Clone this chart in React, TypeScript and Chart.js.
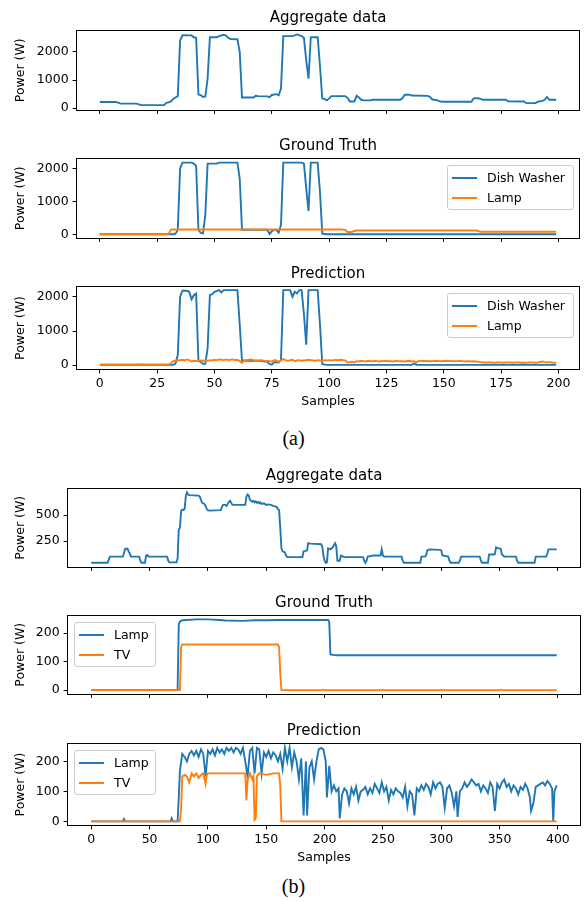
import React, { useEffect, useRef } from "react";
import { Chart, registerables } from "chart.js";
Chart.register(...registerables);

const BLUE = "#1f77b4";
const ORANGE = "#ff7f0e";
const FONT = "'DejaVu Sans', sans-serif";

type Pt = [number, number];

// ---------------- (a) data : [sample, watts] ----------------
const aAggregate: Pt[] = [[0,220],[7,220],[8,200],[9,165],[16,165],[17,140],[18,112],[28,112],[29,190],[30,205],[31,240],[32,330],[33,380],[34,430],[35,2400],[36,2590],[40,2585],[41,2520],[42,2500],[43,490],[44,470],[45,400],[46,420],[47,1050],[48,2520],[51,2520],[52,2560],[54,2610],[55,2580],[56,2500],[57,2460],[60,2450],[61,2000],[62,380],[67,380],[68,440],[69,430],[73,420],[74,390],[75,470],[77,500],[78,460],[79,700],[80,2560],[84,2560],[86,2620],[88,2560],[89,2500],[90,1700],[91,1050],[92,2520],[95,2520],[96,1500],[97,350],[98,330],[99,280],[100,350],[101,430],[107,430],[108,370],[109,240],[111,240],[112,440],[113,380],[114,300],[115,280],[118,280],[119,300],[131,300],[132,360],[133,480],[135,480],[136,450],[143,440],[144,400],[145,310],[147,290],[148,250],[149,230],[162,230],[163,350],[165,360],[166,330],[167,300],[177,300],[178,250],[185,240],[186,180],[190,180],[191,230],[193,260],[194,300],[195,400],[196,300],[199,300]];

const aTruthDish: Pt[] = [[0,10],[32,10],[33,30],[34,150],[35,2000],[36,2180],[40,2180],[41,2150],[42,2080],[43,150],[44,50],[45,40],[46,600],[47,2150],[51,2150],[52,2180],[60,2180],[61,1700],[62,150],[73,150],[74,20],[75,100],[76,150],[77,140],[78,60],[79,300],[80,2180],[88,2180],[89,2150],[90,1400],[91,720],[92,2180],[95,2180],[96,1300],[97,30],[99,10],[199,10]];

const aTruthLamp: Pt[] = [[0,10],[29,10],[30,20],[31,150],[32,155],[105,155],[106,150],[107,140],[108,80],[110,80],[111,110],[112,125],[164,125],[165,110],[166,85],[199,85]];

const aPredDish: Pt[] = [[0,10],[32,10],[33,50],[34,300],[35,2000],[36,2180],[38,2180],[39,2150],[40,1930],[41,2050],[42,2100],[43,120],[44,100],[45,40],[46,40],[47,500],[48,2050],[49,2080],[50,2150],[52,2200],[53,2130],[54,2200],[60,2200],[61,1200],[62,130],[70,130],[72,110],[73,100],[74,40],[75,20],[76,90],[78,80],[79,150],[80,2200],[83,2200],[84,2000],[85,2150],[86,2100],[87,2200],[88,2200],[89,1500],[90,600],[91,2200],[95,2200],[96,1200],[97,30],[99,10],[136,10],[137,50],[138,10],[199,10]];

const aPredLamp: Pt[] = [[0,20],[16,20],[17,30],[18,20],[30,20],[31,60],[32,120],[33,130],[34,140],[35,150],[36,160],[37,140],[38,170],[39,150],[40,110],[41,130],[42,120],[43,130],[44,140],[45,130],[46,140],[47,130],[48,150],[49,140],[50,160],[51,150],[52,170],[53,160],[54,150],[55,170],[56,150],[57,160],[58,170],[59,150],[60,160],[61,120],[62,70],[63,150],[64,140],[65,160],[66,170],[67,150],[68,140],[69,130],[70,150],[71,140],[72,120],[73,130],[74,120],[75,110],[76,150],[77,140],[78,100],[79,140],[80,180],[81,150],[82,130],[83,150],[84,160],[85,120],[86,140],[87,150],[88,130],[89,140],[90,150],[91,160],[92,150],[93,140],[94,130],[95,150],[96,140],[97,130],[98,150],[99,140],[100,150],[101,140],[102,150],[103,155],[104,150],[105,160],[106,150],[107,140],[108,80],[109,90],[110,100],[111,80],[112,120],[113,110],[114,130],[115,120],[116,110],[117,130],[118,120],[119,115],[120,125],[121,120],[122,110],[123,125],[124,120],[125,130],[126,115],[127,120],[128,110],[129,125],[130,120],[131,115],[132,120],[133,110],[134,125],[135,130],[136,110],[137,120],[138,80],[139,125],[140,120],[141,130],[142,120],[143,125],[144,115],[145,120],[146,130],[147,125],[148,120],[149,115],[150,125],[151,130],[152,120],[153,125],[154,120],[155,115],[156,120],[157,125],[158,120],[159,110],[160,115],[161,120],[162,110],[163,115],[164,110],[165,100],[166,90],[167,80],[168,85],[169,80],[170,85],[171,80],[172,75],[173,80],[174,85],[175,80],[176,75],[177,80],[178,85],[179,80],[180,75],[181,80],[182,85],[183,80],[184,75],[185,80],[186,70],[187,80],[188,85],[189,80],[190,75],[191,80],[192,100],[193,110],[194,90],[195,80],[196,90],[197,80],[198,70],[199,80]];

// ---------------- (b) data ----------------
const bAggregate: Pt[] = [[0,40],[14,40],[15,70],[16,100],[27,100],[28,130],[29,175],[31,178],[32,150],[33,130],[34,100],[41,100],[42,60],[43,40],[46,40],[47,110],[48,115],[49,100],[65,100],[66,60],[67,44],[73,44],[74,80],[75,360],[76,380],[77,540],[78,555],[79,550],[80,560],[81,680],[82,720],[83,700],[84,695],[92,690],[93,680],[95,620],[97,610],[98,590],[99,560],[100,550],[101,545],[111,550],[112,580],[113,600],[115,600],[116,590],[117,610],[118,630],[119,640],[120,620],[121,600],[132,600],[133,680],[134,700],[135,690],[136,650],[137,640],[138,630],[139,640],[140,625],[141,635],[142,620],[143,630],[144,615],[145,625],[146,610],[148,615],[150,600],[152,605],[154,600],[156,590],[158,585],[159,580],[160,560],[161,550],[162,380],[163,180],[164,150],[165,145],[166,140],[167,110],[168,95],[181,95],[182,150],[184,155],[185,160],[186,230],[188,225],[197,220],[198,200],[199,110],[200,60],[201,40],[202,45],[203,180],[205,170],[207,190],[209,230],[210,200],[211,60],[213,60],[214,110],[216,100],[217,95],[233,95],[234,60],[235,40],[236,60],[237,100],[242,110],[248,110],[249,170],[250,110],[251,100],[266,100],[267,60],[268,40],[282,40],[283,100],[286,100],[287,110],[288,160],[290,170],[299,165],[300,160],[301,110],[306,100],[307,60],[308,40],[315,40],[316,60],[317,100],[333,100],[334,60],[335,40],[340,40],[341,120],[345,120],[346,125],[347,190],[349,180],[351,175],[352,120],[354,100],[364,100],[365,60],[366,40],[380,40],[381,100],[390,100],[391,130],[392,170],[399,170]];

const bTruthLamp: Pt[] = [[0,0],[74,0],[75,230],[76,240],[78,245],[90,248],[100,248],[110,246],[115,244],[130,243],[140,245],[150,245],[160,246],[203,246],[204,240],[205,125],[210,122],[399,122]];

const bTruthTV: Pt[] = [[0,0],[76,0],[77,150],[78,160],[160,160],[161,150],[162,60],[163,0],[399,0]];

const bPredLamp: Pt[] = [[0,0],[27,0],[28,8],[29,0],[68,0],[69,10],[70,0],[74,0],[75,80],[76,170],[78,225],[80,215],[82,200],[84,225],[86,235],[88,220],[90,235],[92,215],[94,240],[96,225],[98,150],[100,235],[102,225],[104,240],[106,220],[108,245],[110,230],[112,240],[114,225],[116,245],[118,235],[120,245],[122,230],[124,245],[126,240],[128,225],[130,245],[132,200],[134,150],[136,235],[138,245],[140,160],[142,245],[144,240],[146,160],[148,230],[150,215],[152,235],[154,210],[156,230],[158,220],[160,200],[162,225],[164,175],[166,245],[168,200],[170,245],[172,180],[174,230],[176,200],[178,140],[180,210],[182,20],[184,200],[185,20],[187,180],[189,200],[191,140],[193,200],[195,240],[197,245],[199,240],[201,200],[202,80],[204,185],[206,100],[208,120],[210,100],[212,110],[213,10],[215,90],[217,110],[219,100],[221,60],[223,110],[225,90],[227,115],[229,70],[231,100],[233,105],[235,115],[237,90],[239,110],[241,95],[243,125],[245,110],[247,95],[249,130],[251,100],[253,115],[255,70],[257,105],[259,90],[261,110],[263,100],[265,95],[267,80],[269,115],[271,50],[273,100],[275,90],[277,20],[279,110],[281,100],[283,120],[285,105],[287,125],[289,115],[291,90],[293,130],[295,110],[297,125],[299,130],[301,115],[303,45],[305,110],[307,120],[309,95],[311,50],[313,100],[314,15],[316,100],[318,110],[320,130],[322,115],[324,125],[326,140],[328,130],[330,120],[332,125],[334,100],[336,120],[338,110],[340,95],[342,130],[344,115],[346,35],[348,125],[350,110],[352,130],[354,140],[356,115],[358,125],[360,100],[362,120],[364,110],[366,90],[368,115],[370,105],[372,125],[374,110],[376,80],[377,35],[379,60],[381,115],[383,120],[385,125],[387,130],[389,120],[391,135],[393,125],[395,110],[396,0],[397,100],[399,120]];

const bPredTV: Pt[] = [[0,0],[76,0],[77,40],[78,150],[80,155],[82,150],[84,130],[86,160],[88,150],[90,160],[92,145],[94,155],[96,160],[98,125],[99,155],[100,160],[132,160],[133,70],[134,140],[136,160],[138,140],[139,150],[140,5],[141,10],[142,150],[144,160],[150,155],[156,160],[161,160],[162,120],[163,0],[399,0]];

// ---------------- tick labels ----------------
const xTicksA = [0, 25, 50, 75, 100, 125, 150, 175, 200];
const xTicksB = [0, 50, 100, 150, 200, 250, 300, 350, 400];
const yTicksA = [0, 1000, 2000];
const yTicksBAgg = [250, 500];
const yTicksB = [0, 100, 200];

interface Series { label: string; color: string; pts: Pt[] }
interface PanelSpec {
  top: number; height: number; yAxisWidth: number; padRight: number; xAxisHeight: number;
  title: string; xMin: number; xMax: number; xTicks: number[]; showX: boolean;
  yMin: number; yMax: number; yTicks: number[]; series: Series[];
}

const framePlugin = {
  id: "frame",
  afterDraw(chart: any) {
    const { ctx, chartArea: a } = chart;
    ctx.save();
    ctx.strokeStyle = "#000";
    ctx.lineWidth = 1;
    const l = Math.round(a.left) - 0.5, t = Math.round(a.top) - 0.5;
    const r = Math.round(a.right) + 0.5, b = Math.round(a.bottom) + 0.5;
    ctx.strokeRect(l, t, r - l, b - t);
    ctx.restore();
  },
};

function Panel({ spec }: { spec: PanelSpec }) {
  const ref = useRef<HTMLCanvasElement>(null);
  useEffect(() => {
    const n = spec.series.length;
    const tickFont = { family: FONT, size: 12.5, lineHeight: 1.2 };
    const chart = new Chart(ref.current as HTMLCanvasElement, {
      type: "line",
      data: {
        datasets: spec.series.map((s, i) => ({
          label: s.label,
          data: s.pts.map(([x, y]) => ({ x, y })),
          borderColor: s.color,
          backgroundColor: s.color,
          borderWidth: 1.9,
          pointRadius: 0,
          tension: 0,
          fill: false,
          order: n - 1 - i,
        })),
      },
      options: {
        animation: false,
        responsive: false,
        maintainAspectRatio: false,
        devicePixelRatio: 1,
        layout: { padding: { left: 0, right: spec.padRight, top: 0, bottom: 0 } },
        plugins: {
          legend: { display: false },
          tooltip: { enabled: false },
          title: {
            display: true,
            text: spec.title,
            color: "#000",
            fullSize: false,
            font: { family: FONT, size: 15, weight: "normal", lineHeight: 1.2 },
            padding: { top: 3.5, bottom: 3.5 },
          },
        },
        scales: {
          x: {
            type: "linear",
            min: spec.xMin,
            max: spec.xMax,
            afterBuildTicks: (axis: any) => { axis.ticks = spec.xTicks.map((v) => ({ value: v })); },
            afterFit: (s: any) => { s.height = spec.xAxisHeight; },
            grid: { drawOnChartArea: false, drawTicks: true, tickLength: 4.4, color: "#000", lineWidth: 1 },
            border: { display: false },
            ticks: {
              padding: 2.5, color: "#000", font: tickFont, maxRotation: 0, autoSkip: false,
              callback: (v: any) => (spec.showX ? String(v) : ""),
            },
            title: spec.showX
              ? { display: true, text: "Samples", color: "#000", font: tickFont, padding: { top: 0, bottom: 1.8 } }
              : { display: false },
          },
          y: {
            type: "linear",
            min: spec.yMin,
            max: spec.yMax,
            afterBuildTicks: (axis: any) => { axis.ticks = spec.yTicks.map((v) => ({ value: v })); },
            afterFit: (s: any) => { s.width = spec.yAxisWidth; },
            grid: { drawOnChartArea: false, drawTicks: true, tickLength: 4.4, color: "#000", lineWidth: 1 },
            border: { display: false },
            ticks: { padding: 4, color: "#000", font: tickFont, callback: (v: any) => String(v) },
            title: { display: true, text: "Power (W)", color: "#000", font: tickFont, padding: { top: 13.5, bottom: 0 } },
          },
        },
      } as any,
      plugins: [framePlugin],
    });
    return () => chart.destroy();
  }, [spec]);
  return (
    <canvas
      ref={ref}
      width={587}
      height={spec.height}
      style={{ position: "absolute", left: 0, top: spec.top, width: 587, height: spec.height }}
    />
  );
}

function Legend({ left, top, width, items }: { left: number; top: number; width: number; items: { label: string; color: string }[] }) {
  return (
    <div
      style={{
        position: "absolute", left, top, width, height: 45, boxSizing: "border-box",
        border: "1px solid #cccccc", borderRadius: 3, background: "rgba(255,255,255,0.8)",
        fontFamily: FONT, fontSize: 12.5, color: "#000",
      }}
    >
      {items.map((it, i) => (
        <div key={i} style={{ position: "absolute", left: 0, top: (i === 0 ? 12.5 : 33) - 9, height: 16, width: "100%" }}>
          <span style={{ position: "absolute", left: 4, top: 7, width: 25, height: 2, background: it.color }} />
          <span style={{ position: "absolute", left: 39, top: 0, lineHeight: "16px", whiteSpace: "nowrap" }}>{it.label}</span>
        </div>
      ))}
    </div>
  );
}

const A_COMMON = { yAxisWidth: 77, padRight: 8, xMin: -9.95, xMax: 208.95, xTicks: xTicksA };
const B_COMMON = { yAxisWidth: 68, padRight: 7, xMin: -19.95, xMax: 418.95, xTicks: xTicksB };

const panels: PanelSpec[] = [
  { ...A_COMMON, top: 6, height: 115, xAxisHeight: 8, title: "Aggregate data", showX: false, yMin: -45, yMax: 2742, yTicks: yTicksA,
    series: [{ label: "Aggregate", color: BLUE, pts: aAggregate }] },
  { ...A_COMMON, top: 134, height: 115, xAxisHeight: 8, title: "Ground Truth", showX: false, yMin: -87, yMax: 2291, yTicks: yTicksA,
    series: [{ label: "Dish Washer", color: BLUE, pts: aTruthDish }, { label: "Lamp", color: ORANGE, pts: aTruthLamp }] },
  { ...A_COMMON, top: 262, height: 149, xAxisHeight: 42, title: "Prediction", showX: true, yMin: -110, yMax: 2290, yTicks: yTicksA,
    series: [{ label: "Dish Washer", color: BLUE, pts: aPredDish }, { label: "Lamp", color: ORANGE, pts: aPredLamp }] },
  { ...B_COMMON, top: 464, height: 114, xAxisHeight: 8, title: "Aggregate data", showX: false, yMin: 4, yMax: 754, yTicks: yTicksBAgg,
    series: [{ label: "Aggregate", color: BLUE, pts: bAggregate }] },
  { ...B_COMMON, top: 591, height: 114, xAxisHeight: 8, title: "Ground Truth", showX: false, yMin: -12, yMax: 260, yTicks: yTicksB,
    series: [{ label: "Lamp", color: BLUE, pts: bTruthLamp }, { label: "TV", color: ORANGE, pts: bTruthTV }] },
  { ...B_COMMON, top: 719, height: 148, xAxisHeight: 42, title: "Prediction", showX: true, yMin: -12, yMax: 258, yTicks: yTicksB,
    series: [{ label: "Lamp", color: BLUE, pts: bPredLamp }, { label: "TV", color: ORANGE, pts: bPredTV }] },
];

const legendA = [{ label: "Dish Washer", color: BLUE }, { label: "Lamp", color: ORANGE }];
const legendB = [{ label: "Lamp", color: BLUE }, { label: "TV", color: ORANGE }];

export default function App() {
  return (
    <div style={{ position: "absolute", left: 0, top: 0, width: 587, height: 902, background: "#fff", overflow: "hidden" }}>
      {panels.map((p, i) => <Panel key={i} spec={p} />)}
      <Legend left={447} top={165} width={127} items={legendA} />
      <Legend left={447} top={293} width={127} items={legendA} />
      <Legend left={74} top={622} width={82} items={legendB} />
      <Legend left={74} top={750} width={82} items={legendB} />
      <div style={{ position: "absolute", left: 0, width: 587, top: 426, textAlign: "center", fontFamily: "'Liberation Serif', serif", fontSize: 20, lineHeight: "24px", color: "#000" }}>(a)</div>
      <div style={{ position: "absolute", left: 0, width: 587, top: 874, textAlign: "center", fontFamily: "'Liberation Serif', serif", fontSize: 20, lineHeight: "24px", color: "#000" }}>(b)</div>
    </div>
  );
}
